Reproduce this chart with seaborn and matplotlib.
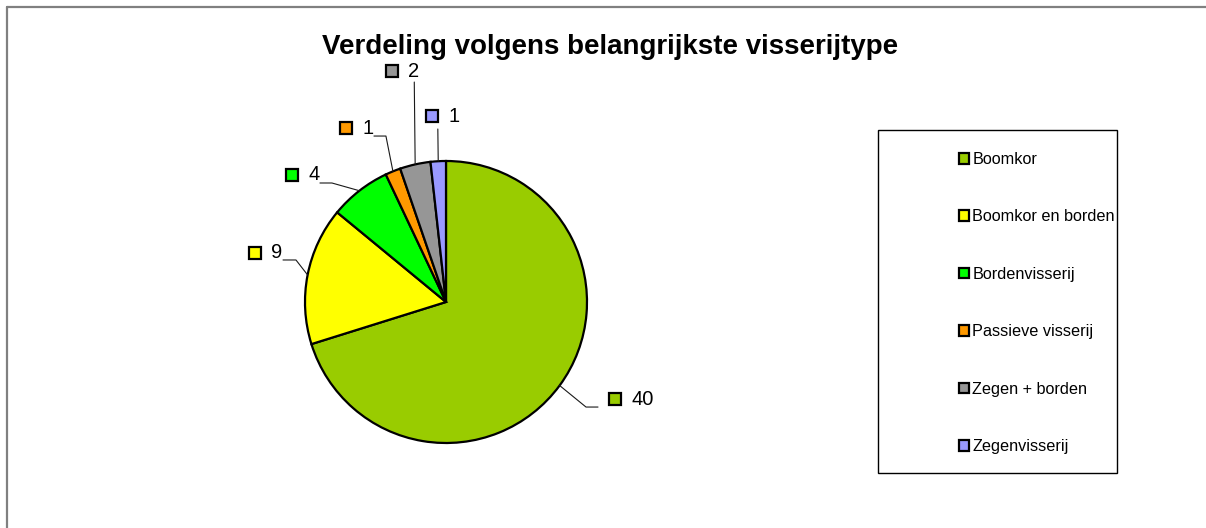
import matplotlib

matplotlib.use("Agg")
import matplotlib.pyplot as plt
import seaborn as sns
from matplotlib.lines import Line2D
from matplotlib.patches import Patch, Rectangle
import numpy as np

sns.set_theme(style="white")
plt.rcParams["font.family"] = ["Liberation Sans", "DejaVu Sans"]
plt.rcParams["text.color"] = "black"

# data
categories = [
    "Boomkor",
    "Boomkor en borden",
    "Bordenvisserij",
    "Passieve visserij",
    "Zegen + borden",
    "Zegenvisserij",
]
counts = [40, 9, 4, 1, 2, 1]
colors = ["#99CC00", "#FFFF00", "#00FF00", "#FF9900", "#969696", "#9999FF"]
title = "Verdeling volgens belangrijkste visserijtype"

# label layout (pie radius units): marker centre, leader elbow, leader end
label_marker = [(1.202, -0.688), (-1.355, 0.351), (-1.092, 0.901),
                (-0.709, 1.234), (-0.383, 1.638), (-0.096, 1.319)]
leader_elbow = [(0.993, -0.745), (-1.064, 0.298), (-0.809, 0.844),
                (-0.426, 1.177), (-0.225, 1.560), (-0.058, 1.227)]
leader_end = [(1.078, -0.745), (-1.156, 0.298), (-0.894, 0.844),
              (-0.511, 1.177), (-0.225, 1.560), (-0.058, 1.227)]

W, H = 1206, 528
fig = plt.figure(figsize=(W / 100, H / 100), dpi=100)
fig.patch.set_facecolor("white")
ax = fig.add_axes([0, 0, 1, 1])

palette = sns.color_palette(colors)
wedges, _ = ax.pie(
    counts,
    colors=palette,
    startangle=90,
    counterclock=False,
    wedgeprops=dict(edgecolor="black", linewidth=1.6),
)

cx, cy, r = 446, 302, 141
ax.set_xlim(-cx / r, (W - cx) / r)
ax.set_ylim((cy - H) / r, cy / r)
ax.set_aspect("auto")
ax.axis("off")

for i, w in enumerate(wedges):
    mid = np.deg2rad((w.theta1 + w.theta2) / 2)
    sx, sy = np.cos(mid), np.sin(mid)
    ex, ey = leader_elbow[i]
    tx, ty = leader_end[i]
    ax.plot([sx, ex, tx], [sy, ey, ty], color="#1a1a1a", lw=0.8, zorder=1)
    mx, my = label_marker[i]
    ax.plot(mx, my, marker="s", ms=8.5, mfc=colors[i], mec="black", mew=1.6,
            zorder=3)
    ax.text(mx + 0.115, my, str(counts[i]), fontsize=14.5, ha="left",
            va="center", color="black")

fig.text(610 / W, 1 - 47 / H, title, fontsize=20, fontweight="bold",
         ha="center", va="center", color="black")

# outer frame (left and top edges)
fig.add_artist(Line2D([7 / W, 7 / W], [0, 1 - 7 / H], color="#808080", lw=1.6))
fig.add_artist(Line2D([7 / W, 1], [1 - 7 / H, 1 - 7 / H], color="#808080", lw=1.6))

# legend box
fig.add_artist(Rectangle((878 / W, 1 - 473 / H), 239 / W, 343 / H,
                         transform=fig.transFigure, fill=False,
                         edgecolor="black", lw=1.0))
handles = [Patch(facecolor=c, edgecolor="black", linewidth=1.6) for c in colors]
leg = fig.legend(
    handles,
    categories,
    loc="upper left",
    bbox_to_anchor=(959 / W, 1 - 152 / H),
    frameon=False,
    fontsize=11.7,
    handlelength=0.62,
    handleheight=0.62,
    handletextpad=0.2,
    labelspacing=2.61,
    borderpad=0,
    borderaxespad=0,
)
for t in leg.get_texts():
    t.set_color("black")

fig.savefig("out.png", dpi=100, facecolor="white")
